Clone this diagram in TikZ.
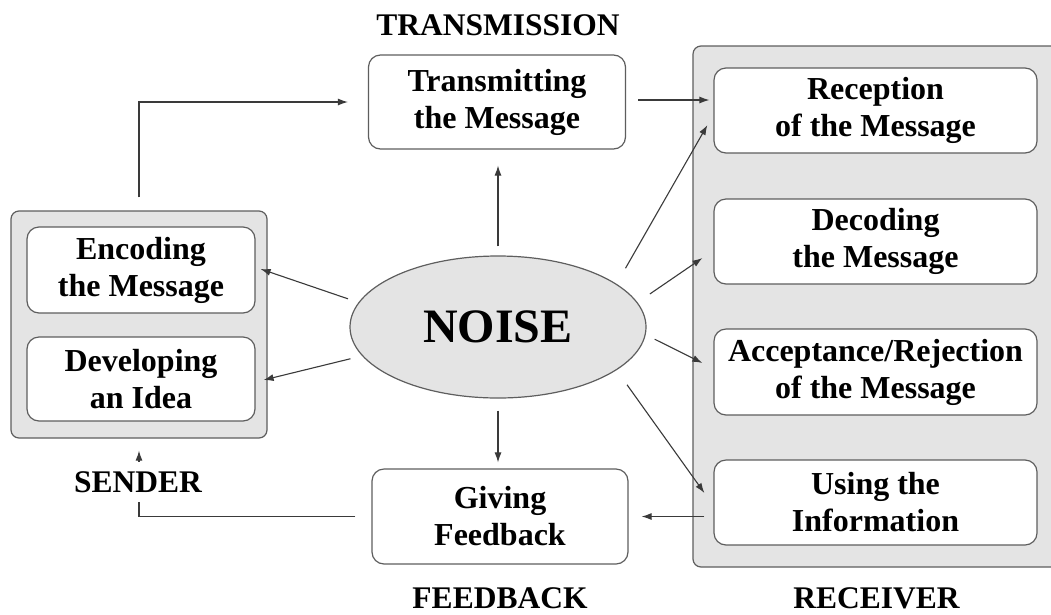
\documentclass[tikz,border=0pt]{standalone}
\usepackage{fontspec}
\setmainfont{Liberation Serif}
\usetikzlibrary{arrows.meta,shapes.geometric,calc}
\definecolor{boxgray}{HTML}{E4E4E4}
\definecolor{linegray}{HTML}{5E5E5E}
\definecolor{arrgray}{HTML}{3A3A3A}
\begin{document}
\begin{tikzpicture}[x=1pt,y=-1pt,
  box/.style={draw=linegray, line width=1.2pt, rounded corners=12pt, fill=white, align=center,
    font=\bfseries\fontsize{32}{37}\selectfont, inner sep=0pt, text=black},
  grp/.style={draw=linegray, line width=1.2pt, rounded corners=8pt, fill=boxgray, inner sep=0pt},
  lbl/.style={font=\bfseries\fontsize{31.5}{36}\selectfont, inner sep=1pt},
  arr/.style={draw=arrgray, line width=1.1pt, -{Latex[length=10pt,width=7pt]}},
]
\useasboundingbox (0,0) rectangle (1051,614);
\fill[white] (0,0) rectangle (1051,614);

% sender group
\node[grp, minimum width=256pt, minimum height=227pt] (snd) at (139,324.5) {};
\node[box, minimum width=228pt, minimum height=86pt] (enc) at (141,270) {Encoding\\the Message};
\node[box, minimum width=228pt, minimum height=84pt] (dev) at (141,379) {Developing\\an Idea};

% receiver group
\begin{scope}
\clip (0,0) rectangle (1051,614);
\node[grp, minimum width=367pt, minimum height=521pt] (rcv) at (876.5,306.5) {};
\end{scope}
\node[box, minimum width=323pt, minimum height=85pt] (rec) at (875.5,110.5) {Reception\\of the Message};
\node[box, minimum width=323pt, minimum height=85pt] (dec) at (875.5,241.5) {Decoding\\the Message};
\node[box, minimum width=323pt, minimum height=86pt] (acc) at (875.5,372) {Acceptance/Rejection\\of the Message};
\node[box, minimum width=323pt, minimum height=85pt] (use) at (875.5,502.5) {Using the\\Information};

% middle column
\node[box, minimum width=257pt, minimum height=94pt] (tr) at (497,102) {Transmitting\\the Message};
\node[box, minimum width=256pt, minimum height=95pt] (fb) at (500,516.5) {Giving\\Feedback};
\node[ellipse, draw=linegray, fill=boxgray, line width=1.2pt, minimum width=296pt, minimum height=142pt,
  inner sep=0pt, font=\bfseries\fontsize{48}{50}\selectfont] (noise) at (498,327) {NOISE};

% labels
\node[lbl] (ltr) at (498,25) {TRANSMISSION};
\node[lbl, anchor=base, inner sep=0pt] (lfb) at (500,608) {FEEDBACK};
\node[lbl, anchor=base, inner sep=0pt] (lrc) at (876.5,608) {RECEIVER};

% connectors
\draw[arr] ($(snd.north)+(0,-13)$) |- ($(tr.west)+(-20,0)$);
\draw[arr] ($(tr.east)+(12,-2)$) -- ($(tr.east -| rec.west)+(-4,-2)$);
\draw[arr, shorten <=9pt, shorten >=16pt] (noise.north) -- (noise.north |- tr.south);
\draw[arr, shorten <=12pt, shorten >=6pt] (noise.south) -- (noise.south |- fb.north);
\draw[arr, shorten <=11pt] (noise.170) -- ($(enc.east)+(5,-1)$);
\draw[arr, shorten <=12pt] (noise.192) -- ($(dev.east)+(8,1)$);
\draw[arr, shorten <=18pt] (noise.20) -- ($(rec.west)+(-6,14.5)$);
\draw[arr, shorten <=15pt] (noise.10) -- ($(dec.west)+(-11,16.5)$);
\draw[arr, shorten <=10pt] (noise.-3) -- ($(acc.west)+(-11,-9)$);
\draw[arr, shorten <=18pt] (noise.-20.5) -- ($(use.west)+(-9,-9.5)$);
\draw[arr] ($(use.west |- fb.east)+(-9,0)$) -- ($(fb.east)+(13,0)$);
\draw[arr] ($(fb.west)+(-16,0)$) -| ($(snd.south)+(0,12)$);
\node[lbl, fill=white, inner ysep=9pt, inner xsep=2pt] (lsn) at (138,482) {SENDER};
\end{tikzpicture}
\end{document}
